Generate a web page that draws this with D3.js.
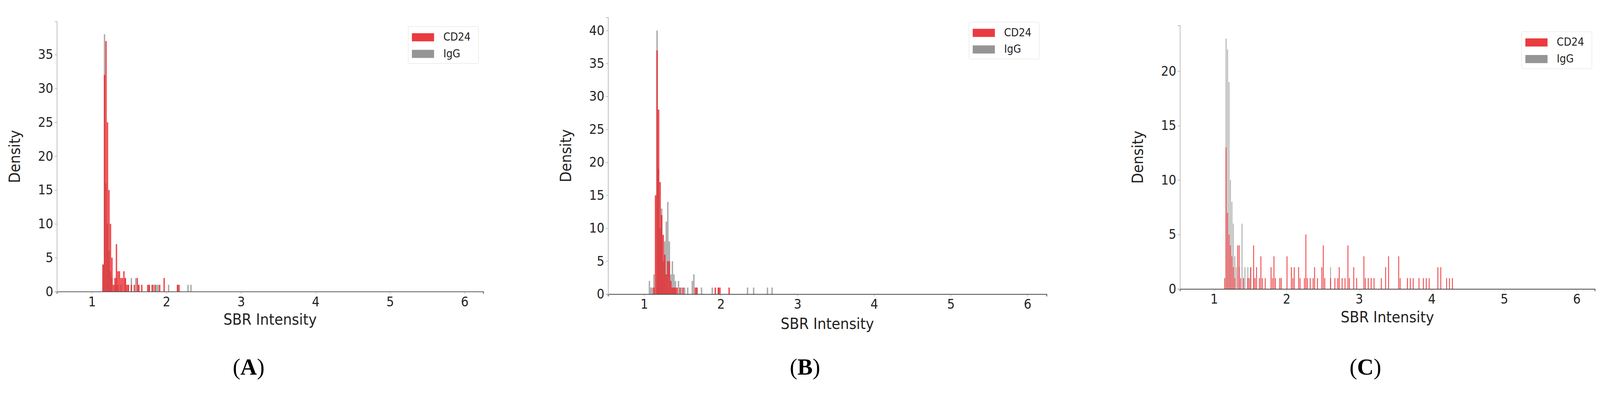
<!DOCTYPE html>
<html><head><meta charset="utf-8">
<script src="https://cdn.jsdelivr.net/npm/d3@7"></script>
<style>html,body{margin:0;padding:0;background:#fff;overflow:hidden}svg{display:block}</style>
</head><body>
<div id="fig"></div>
<script>
// [bin start, count]
var cd24A = [[1.14,4],[1.16,32],[1.18,37],[1.20,25],[1.22,15],[1.24,10],[1.26,5],[1.28,1],[1.30,2],[1.32,7],[1.34,3],[1.36,3],[1.38,2],[1.40,2],[1.42,3],[1.44,2],[1.46,1],[1.48,1],[1.52,1],[1.56,1],[1.60,2],[1.62,1],[1.66,1],[1.74,1],[1.76,1],[1.80,1],[1.84,1],[1.90,1],[1.96,2],[2.14,1],[2.16,1]];
var iggA = [[1.14,4],[1.16,38],[1.18,16],[1.20,10],[1.22,6],[1.24,3],[1.26,2],[1.30,1],[1.32,2],[1.34,1],[1.38,1],[1.44,2],[1.48,1],[1.52,2],[1.58,2],[1.62,1],[1.76,1],[1.80,1],[1.82,1],[1.86,1],[1.88,1],[2.02,1],[2.14,1],[2.28,1],[2.32,1]];
var cd24B = [[1.12,1],[1.14,15],[1.16,37],[1.18,28],[1.20,17],[1.22,12],[1.24,9],[1.26,6],[1.28,3],[1.30,5],[1.32,5],[1.34,2],[1.36,1],[1.38,1],[1.40,1],[1.42,1],[1.46,1],[1.50,1],[1.66,1],[1.68,1],[1.92,1],[1.96,1],[1.98,1],[2.10,1]];
var iggB = [[1.06,2],[1.08,1],[1.10,1],[1.12,3],[1.16,40],[1.18,19],[1.20,10],[1.22,13],[1.24,5],[1.26,8],[1.28,11],[1.30,14],[1.32,8],[1.34,3],[1.36,5],[1.38,3],[1.40,2],[1.44,2],[1.48,1],[1.52,1],[1.56,1],[1.62,2],[1.64,3],[1.68,1],[1.74,1],[1.88,1],[1.96,1],[2.34,1],[2.42,1],[2.60,1],[2.66,1]];
var cd24C = [[1.14,1],[1.16,13],[1.18,7],[1.20,5],[1.22,4],[1.24,3],[1.26,2],[1.28,1],[1.32,4],[1.34,4],[1.36,1],[1.40,1],[1.46,1],[1.48,1],[1.50,2],[1.54,4],[1.56,1],[1.58,2],[1.62,1],[1.64,3],[1.66,1],[1.70,1],[1.78,2],[1.80,1],[1.82,3],[1.84,1],[1.90,1],[1.92,1],[2.00,3],[2.06,2],[2.08,1],[2.10,2],[2.16,2],[2.18,1],[2.24,1],[2.26,5],[2.28,1],[2.32,1],[2.36,1],[2.38,2],[2.42,1],[2.48,2],[2.50,4],[2.52,1],[2.60,1],[2.66,1],[2.70,1],[2.72,2],[2.76,1],[2.80,1],[2.84,4],[2.86,1],[2.92,2],[2.96,1],[3.06,3],[3.08,1],[3.12,1],[3.16,1],[3.20,1],[3.30,1],[3.36,2],[3.40,3],[3.54,3],[3.56,1],[3.66,1],[3.70,1],[3.74,1],[3.82,1],[3.88,1],[3.92,1],[3.96,1],[4.08,2],[4.12,2],[4.20,1],[4.24,1],[4.28,1]];
var iggC = [[1.16,23],[1.18,22],[1.20,19],[1.22,10],[1.24,8],[1.26,6],[1.28,3],[1.30,2],[1.34,2],[1.38,6],[1.40,1],[1.42,2],[1.46,2],[1.50,2],[1.54,1],[2.60,2]];

var xTicks = [1,2,3,4,5,6];
var yTicksA = [0,5,10,15,20,25,30,35];
var yTicksB = [0,5,10,15,20,25,30,35,40];
var yTicksC = [0,5,10,15,20];
var seriesNames = ["CD24","IgG"];
var panelLabels = ["A","B","C"];

var W = 4331, H = 1066;
var svg = d3.select("#fig").append("svg")
	.attr("viewBox","0 0 "+W+" "+H)
	.attr("width","100%")
	.attr("preserveAspectRatio","xMinYMin meet");
var font = "'DejaVu Sans Condensed','DejaVu Sans',sans-serif";

var panels = [
	{cd:cd24A, ig:iggA, yt:yTicksA, ymax:39.9, binW:0.018, l:154, r:1308, t:58, b:790, lab:panelLabels[0], labX:673, xlY:880, leg:[1105,72]},
	{cd:cd24B, ig:iggB, yt:yTicksB, ymax:42, binW:0.018, l:1646, r:2833, t:47, b:797, lab:panelLabels[1], labX:2179, xlY:891, leg:[2623,60]},
	{cd:cd24C, ig:iggC, yt:yTicksC, ymax:24.2, binW:0.012, l:3194, r:4317, t:69, b:783, lab:panelLabels[2], labX:3696, xlY:873, leg:[4119,86]}
];

panels.forEach(function(p){
	var x = d3.scaleLinear().domain([0.53,6.25]).range([p.l,p.r]);
	var y = d3.scaleLinear().domain([0,p.ymax]).range([p.b,p.t]);
	var g = svg.append("g");

	g.selectAll(".ig").data(p.ig).enter().append("rect")
		.attr("x",function(d){return x(d[0]);})
		.attr("width",function(d){return x(d[0]+p.binW)-x(d[0]);})
		.attr("y",function(d){return y(d[1]);})
		.attr("height",function(d){return y(0)-y(d[1]);})
		.attr("fill","#707070").attr("fill-opacity",0.6);

	g.selectAll(".cd").data(p.cd).enter().append("rect")
		.attr("x",function(d){return x(d[0]);})
		.attr("width",function(d){return x(d[0]+p.binW)-x(d[0]);})
		.attr("y",function(d){return y(d[1]);})
		.attr("height",function(d){return y(0)-y(d[1]);})
		.attr("fill","#e8161c").attr("fill-opacity",0.8);

	var xa = g.append("g").attr("transform","translate(0,"+p.b+")")
		.call(d3.axisBottom(x).tickValues(xTicks).tickFormat(d3.format("d")).tickSize(6).tickPadding(8));
	var ya = g.append("g").attr("transform","translate("+p.l+",0)")
		.call(d3.axisLeft(y).tickValues(p.yt).tickFormat(d3.format("d")).tickSize(6).tickPadding(4));
	[xa,ya].forEach(function(a){
		a.selectAll("text").attr("font-family",font).attr("font-size",36).attr("fill","#222");
		a.selectAll("line").attr("stroke","#888");
	});
	xa.select(".domain").attr("stroke","#444").attr("stroke-width",2);
	ya.select(".domain").attr("stroke","#bbb").attr("stroke-width",2);

	g.append("text").attr("x",(p.l+p.r)/2).attr("y",p.xlY).attr("text-anchor","middle")
		.attr("font-family",font).attr("font-size",42).attr("fill","#222").text("SBR Intensity");
	g.append("text").attr("transform","translate("+(p.l-100)+","+((p.t+p.b)/2)+") rotate(-90)")
		.attr("text-anchor","middle").attr("font-family",font).attr("font-size",42).attr("fill","#222").text("Density");

	var leg = g.append("g").attr("transform","translate("+p.leg[0]+","+p.leg[1]+")");
	leg.append("rect").attr("width",190).attr("height",100).attr("rx",3)
		.attr("fill","#fff").attr("stroke","#ddd");
	[["#e8262b",0.9],["#8a8a8a",0.9]].forEach(function(c,i){
		leg.append("rect").attr("x",10).attr("y",18+i*45).attr("width",60).attr("height",22)
			.attr("fill",c[0]).attr("fill-opacity",c[1]);
		leg.append("text").attr("x",95).attr("y",38+i*45).attr("font-family",font)
			.attr("font-size",30).attr("fill","#222").text(seriesNames[i]);
	});

	var lab = svg.append("text").attr("x",p.labX).attr("y",1015).attr("text-anchor","middle")
		.attr("font-family","'Liberation Serif','DejaVu Serif',serif").attr("font-size",62).attr("fill","#000");
	lab.append("tspan").text("(");
	lab.append("tspan").attr("font-weight","bold").text(p.lab);
	lab.append("tspan").text(")");
});
</script>
</body></html>
